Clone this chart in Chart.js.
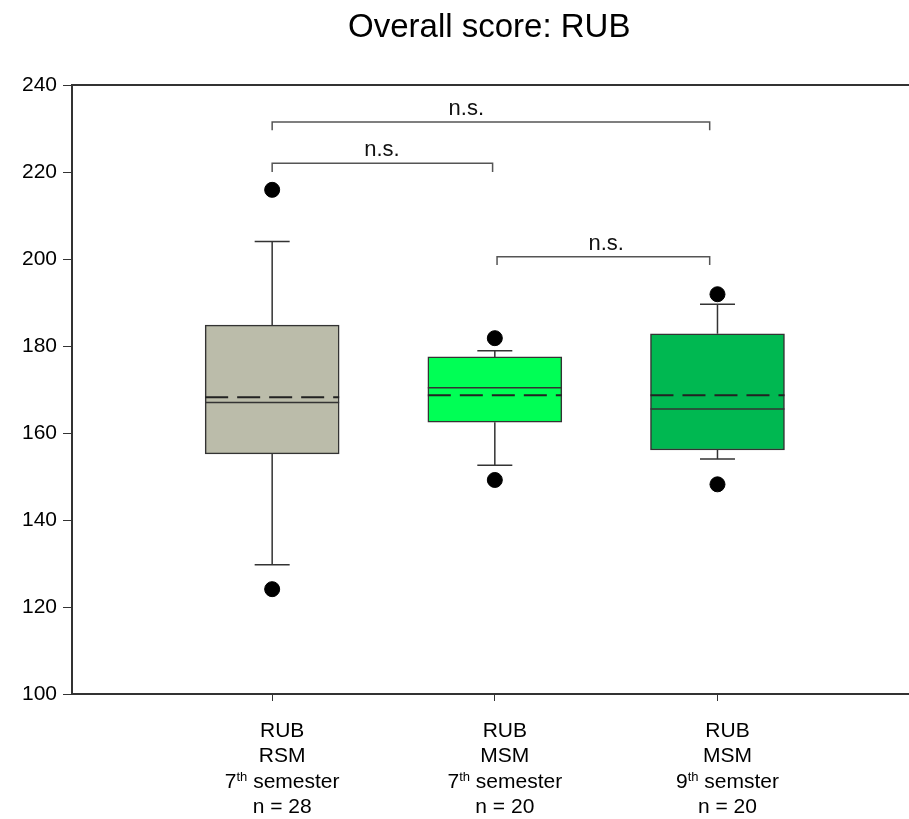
<!DOCTYPE html>
<html>
<head>
<meta charset="utf-8">
<script src="https://cdn.jsdelivr.net/npm/chart.js@4.4.1/dist/chart.umd.min.js"></script>
<style>
  html, body { margin: 0; padding: 0; background: #fff; }
  canvas { display: block; }
</style>
</head>
<body>
<canvas id="boxChart" width="909" height="819"></canvas>
<script>
const chartTitle = 'Overall score: RUB';

// group labels (drawn under the x axis)
const labelLine1 = ['RUB', 'RUB', 'RUB'];
const labelLine2 = ['RSM', 'MSM', 'MSM'];
const ordinalNum = ['7', '7', '9'];
const ordinalSuffix = ['th', 'th', 'th'];
const termWord = ['semester', 'semester', 'semster'];
const groupN = ['n = 28', 'n = 20', 'n = 20'];

// box plot values
const positions = [1, 2, 3];
const q1 = [155.2, 162.5, 156.1];
const q3 = [184.8, 177.5, 182.8];
const medians = [167.0, 170.4, 165.5];
const means = [168.2, 168.7, 168.7];
const whiskerLow = [129.7, 152.6, 154.0];
const whiskerHigh = [204.0, 178.9, 189.6];
const outliers = [[215.9, 124.1], [181.8, 149.2], [191.9, 148.2]];
const boxColors = ['#bbbcaa', '#00ff55', '#00b851'];

// significance brackets
const bracketFrom = [1, 1, 2.01];
const bracketTo = [2.965, 1.99, 2.965];
const bracketY = [231.5, 222.0, 200.5];
const bracketLegY = [229.6, 220.0, 198.6];
const bracketLabelX = [1.872, 1.493, 2.50];
const bracketLabels = ['n.s.', 'n.s.', 'n.s.'];

const yTicks = [100, 120, 140, 160, 180, 200, 220, 240];

const FONT = "'Liberation Sans', Arial, sans-serif";
Chart.defaults.font.family = FONT;
Chart.defaults.color = '#000';

const boxExtras = {
  id: 'boxExtras',
  afterDatasetsDraw(chart) {
    const { ctx, chartArea, scales: { x, y } } = chart;
    ctx.save();

    // top frame line
    ctx.strokeStyle = '#333';
    ctx.lineWidth = 2;
    ctx.beginPath();
    ctx.moveTo(chartArea.left, chartArea.top);
    ctx.lineTo(chart.width, chartArea.top);
    ctx.stroke();

    const half = 67;
    const cap = 17.5;
    positions.forEach((p, i) => {
      const cx = x.getPixelForValue(p);
      // whiskers
      ctx.strokeStyle = '#333';
      ctx.lineWidth = 1.5;
      ctx.setLineDash([]);
      ctx.beginPath();
      ctx.moveTo(cx, y.getPixelForValue(q3[i]));
      ctx.lineTo(cx, y.getPixelForValue(whiskerHigh[i]));
      ctx.moveTo(cx - cap, y.getPixelForValue(whiskerHigh[i]));
      ctx.lineTo(cx + cap, y.getPixelForValue(whiskerHigh[i]));
      ctx.moveTo(cx, y.getPixelForValue(q1[i]));
      ctx.lineTo(cx, y.getPixelForValue(whiskerLow[i]));
      ctx.moveTo(cx - cap, y.getPixelForValue(whiskerLow[i]));
      ctx.lineTo(cx + cap, y.getPixelForValue(whiskerLow[i]));
      ctx.stroke();

      // median
      ctx.beginPath();
      ctx.moveTo(cx - half, y.getPixelForValue(medians[i]));
      ctx.lineTo(cx + half, y.getPixelForValue(medians[i]));
      ctx.stroke();

      // mean (dashed)
      ctx.strokeStyle = '#222';
      ctx.lineWidth = 2;
      ctx.setLineDash([23, 9]);
      ctx.beginPath();
      ctx.moveTo(cx - half, y.getPixelForValue(means[i]));
      ctx.lineTo(cx + half, y.getPixelForValue(means[i]));
      ctx.stroke();
    });
    ctx.setLineDash([]);

    // brackets
    ctx.strokeStyle = '#555';
    ctx.lineWidth = 1.5;
    ctx.fillStyle = '#111';
    ctx.font = '22px ' + FONT;
    ctx.textAlign = 'center';
    ctx.textBaseline = 'alphabetic';
    bracketY.forEach((b, i) => {
      const x1 = x.getPixelForValue(bracketFrom[i]);
      const x2 = x.getPixelForValue(bracketTo[i]);
      const yb = y.getPixelForValue(b);
      const yl = y.getPixelForValue(bracketLegY[i]);
      ctx.beginPath();
      ctx.moveTo(x1, yl);
      ctx.lineTo(x1, yb);
      ctx.lineTo(x2, yb);
      ctx.lineTo(x2, yl);
      ctx.stroke();
      ctx.fillText(bracketLabels[i], x.getPixelForValue(bracketLabelX[i]), yb - 7);
    });
    ctx.restore();
  },
  afterDraw(chart) {
    const { ctx, chartArea, scales: { x } } = chart;
    const base = chartArea.bottom;
    ctx.save();
    // extend the bottom axis line to the canvas edge
    ctx.strokeStyle = '#333';
    ctx.lineWidth = 2;
    ctx.beginPath();
    ctx.moveTo(chartArea.right - 1, base);
    ctx.lineTo(chart.width, base);
    ctx.stroke();

    // title, centred over the plot area
    ctx.fillStyle = '#000';
    ctx.textBaseline = 'alphabetic';
    ctx.textAlign = 'center';
    ctx.font = '33px ' + FONT;
    ctx.fillText(chartTitle, (chartArea.left + chartArea.right) / 2 + 3, 37);

    positions.forEach((p, i) => {
      const cx = x.getPixelForValue(p) + 10;
      ctx.font = '21px ' + FONT;
      ctx.textAlign = 'center';
      ctx.fillText(labelLine1[i], cx, base + 43);
      ctx.fillText(labelLine2[i], cx, base + 68);
      ctx.fillText(groupN[i], cx, base + 119);

      // ordinal with superscript
      ctx.textAlign = 'left';
      const numW = ctx.measureText(ordinalNum[i]).width;
      const restTxt = ' ' + termWord[i];
      const restW = ctx.measureText(restTxt).width;
      ctx.font = '13px ' + FONT;
      const supW = ctx.measureText(ordinalSuffix[i]).width;
      let sx = cx - (numW + supW + restW) / 2;
      const by = base + 94;
      ctx.font = '21px ' + FONT;
      ctx.fillText(ordinalNum[i], sx, by);
      sx += numW;
      ctx.font = '13px ' + FONT;
      ctx.fillText(ordinalSuffix[i], sx, by - 7);
      sx += supW;
      ctx.font = '21px ' + FONT;
      ctx.fillText(restTxt, sx, by);
    });
    ctx.restore();
  }
};

new Chart(document.getElementById('boxChart'), {
  type: 'bar',
  data: {
    datasets: [
      {
        label: 'IQR',
        data: positions.map((p, i) => ({ x: p, y: [q1[i], q3[i]] })),
        backgroundColor: boxColors,
        borderColor: '#333',
        borderWidth: 1.5,
        borderSkipped: false,
        barThickness: 134,
        order: 2
      },
      {
        type: 'scatter',
        label: 'Outliers',
        data: outliers.flatMap((vals, i) => vals.map(v => ({ x: positions[i], y: v }))),
        backgroundColor: '#000',
        borderColor: '#000',
        pointRadius: 7.5,
        order: 1
      }
    ]
  },
  options: {
    responsive: false,
    animation: false,
    layout: { padding: { top: 85, left: 0, right: 0, bottom: 0 } },
    plugins: {
      legend: { display: false },
      tooltip: { enabled: false },
      title: { display: false }
    },
    scales: {
      x: {
        type: 'linear',
        offset: false,
        min: 0.101,
        max: 3.822,
        afterBuildTicks: (scale) => { scale.ticks = positions.map(v => ({ value: v })); },
        afterFit: (scale) => { scale.height = 125; },
        ticks: { display: false },
        grid: { offset: false, drawOnChartArea: false, drawTicks: true, tickLength: 7, color: '#333', lineWidth: 1 },
        border: { display: true, color: '#333', width: 2 }
      },
      y: {
        min: 100,
        max: 240,
        afterBuildTicks: (scale) => { scale.ticks = yTicks.map(v => ({ value: v })); },
        afterFit: (scale) => { scale.width = 72; },
        ticks: { color: '#000', font: { size: 21, family: FONT }, padding: 6 },
        grid: { drawOnChartArea: false, drawTicks: true, tickLength: 9, color: '#333', lineWidth: 1 },
        border: { display: true, color: '#333', width: 2 }
      }
    }
  },
  plugins: [boxExtras]
});
</script>
</body>
</html>
